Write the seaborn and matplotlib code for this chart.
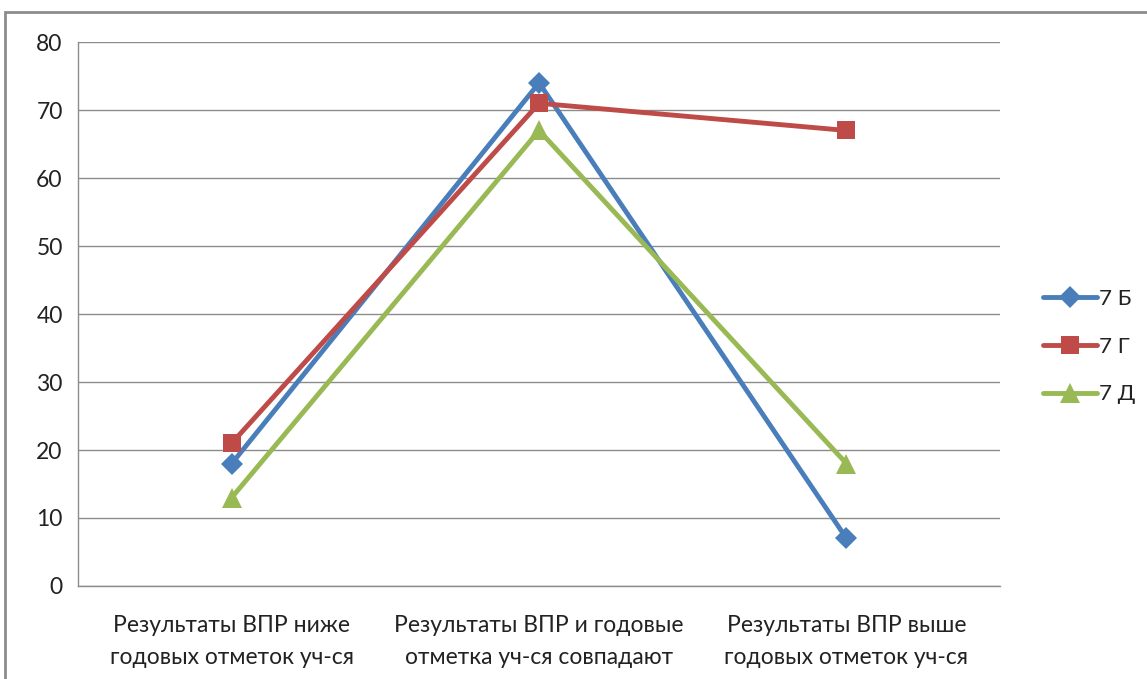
import pandas as pd
import matplotlib.pyplot as plt
import seaborn as sns
from matplotlib.patches import Rectangle

# Dados do gráfico
categorias = ['Результаты ВПР ниже\nгодовых отметок уч-ся',
              'Результаты ВПР и годовые\nотметка уч-ся совпадают',
              'Результаты ВПР выше\nгодовых отметок уч-ся']
serie_7b = [18, 74, 7]
serie_7g = [21, 71, 67]
serie_7d = [13, 67, 18]
nomes = ['7 Б', '7 Г', '7 Д']

sns.set_theme(style="white")
plt.rcParams['font.family'] = ['Lato', 'DejaVu Sans']

df = pd.DataFrame({
    'pos': [0, 1, 2] * 3,
    'valor': serie_7b + serie_7g + serie_7d,
    'turma': [n for n in nomes for _ in range(3)],
})

cores = {'7 Б': '#4A7EBB', '7 Г': '#BE4B48', '7 Д': '#98B954'}
marcadores = {'7 Б': 'D', '7 Г': 's', '7 Д': '^'}
tamanhos = {'7 Б': 11, '7 Г': 13, '7 Д': 14}

fig = plt.figure(figsize=(11.47, 6.79), dpi=100)
ax = fig.add_axes([0.068, 0.137, 0.804, 0.801])

for turma in nomes:
    sub = df[df['turma'] == turma]
    sns.lineplot(data=sub, x='pos', y='valor', ax=ax, color=cores[turma],
                 marker=marcadores[turma], markersize=tamanhos[turma],
                 markeredgewidth=0, linewidth=3.5, label=turma)

ax.set_xlim(-0.5, 2.5)
ax.set_ylim(0, 80)
ax.set_yticks(range(0, 81, 10))
ax.set_xticks([0, 1, 2])
ax.set_xticklabels(categorias, fontsize=16.5, color='#222222', linespacing=1.65)
ax.set_xticks([-0.5, 0.5, 1.5, 2.5], minor=True)
ax.tick_params(axis='x', which='major', length=0, pad=21)
ax.tick_params(axis='x', which='minor', length=6, color='#888888', width=1, direction='out')
ax.tick_params(axis='y', length=6, color='#888888', width=1, direction='out',
               labelsize=16.5, labelcolor='#222222', pad=5)
ax.set_xlabel('')
ax.set_ylabel('')
ax.yaxis.grid(True, color='#8C8C8C', linewidth=1)
ax.set_axisbelow(True)
for lado in ['top', 'right']:
    ax.spines[lado].set_visible(False)
for lado in ['left', 'bottom']:
    ax.spines[lado].set_color('#8C8C8C')
    ax.spines[lado].set_linewidth(1)

leg = ax.legend(loc='center left', bbox_to_anchor=(1.025, 0.44), frameon=False,
                fontsize=16, handlelength=2.4, handletextpad=0.1, labelspacing=1.25)
for t in leg.get_texts():
    t.set_color('#222222')

# Moldura do gráfico
fig.patches.append(Rectangle((0.004, -0.05), 1.1, 1.032, transform=fig.transFigure,
                             fill=False, edgecolor='#8C8C8C', linewidth=2))

fig.savefig('out.png', dpi=100)
